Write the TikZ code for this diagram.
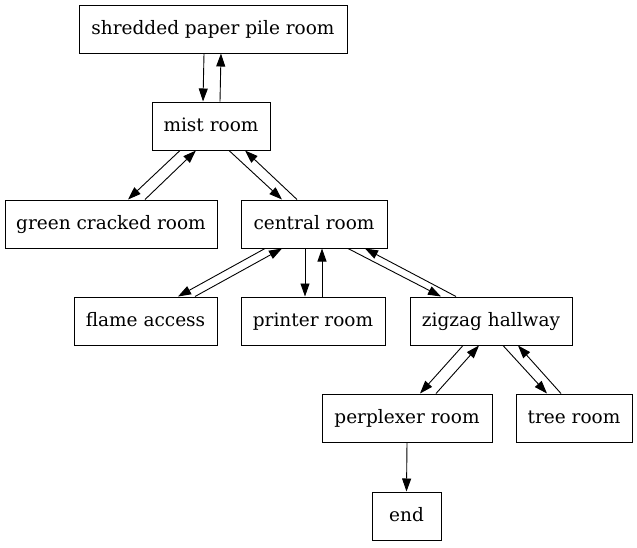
\documentclass[tikz,border=0pt]{standalone}
\usepackage{fontspec}
\setmainfont{DejaVu Serif}
\usetikzlibrary{arrows.meta}
\begin{document}
\begin{tikzpicture}[x=1pt,y=-1pt,
  room/.style={draw,line width=1pt,inner sep=0pt,minimum height=48pt,text height=13pt,text depth=3pt,font=\fontsize{18.5}{20}\selectfont},
  edge/.style={line width=0.9pt,-{Triangle[length=13pt,width=9pt]}}]
\useasboundingbox (0,0) rectangle (637,547);
\node[room,minimum width=268pt] (shred) at (213,29) {shredded paper pile room};
\node[room,minimum width=118pt] (mist) at (211,126) {mist room};
\node[room,minimum width=212pt] (green) at (111,224) {green cracked room};
\node[room,minimum width=146pt] (central) at (314,224) {central room};
\node[room,minimum width=143pt] (flame) at (145.5,321) {flame access};
\node[room,minimum width=144pt] (printer) at (313,321) {printer room};
\node[room,minimum width=162pt] (zigzag) at (491,321) {zigzag hallway};
\node[room,minimum width=170pt] (perp) at (407,418) {perplexer room};
\node[room,minimum width=116pt] (tree) at (574,418) {tree room};
\node[room,minimum width=69pt] (end) at (406.5,516) {end};
\draw[edge] ([xshift=-9pt]shred.south) -- ([xshift=-8pt]mist.north);
\draw[edge] ([xshift=9pt]mist.north) -- ([xshift=8pt]shred.south);
\draw[edge] ([xshift=-31pt]mist.south) -- ([xshift=17pt]green.north);
\draw[edge] ([xshift=34pt]green.north) -- ([xshift=-15pt]mist.south);
\draw[edge] ([xshift=18pt]mist.south) -- ([xshift=-32pt]central.north);
\draw[edge] ([xshift=-17pt]central.north) -- ([xshift=34pt]mist.south);
\draw[edge] ([xshift=-49pt]central.south) -- ([xshift=32.5pt]flame.north);
\draw[edge] ([xshift=49.5pt]flame.north) -- ([xshift=-32pt]central.south);
\draw[edge] ([xshift=-9pt]central.south) -- ([xshift=-8pt]printer.north);
\draw[edge] ([xshift=9pt]printer.north) -- ([xshift=8pt]central.south);
\draw[edge] ([xshift=34pt]central.south) -- ([xshift=-50pt]zigzag.north);
\draw[edge] ([xshift=-35pt]zigzag.north) -- ([xshift=51pt]central.south);
\draw[edge] ([xshift=-28pt]zigzag.south) -- ([xshift=13pt]perp.north);
\draw[edge] ([xshift=29pt]perp.north) -- ([xshift=-12pt]zigzag.south);
\draw[edge] ([xshift=12pt]zigzag.south) -- ([xshift=-27pt]tree.north);
\draw[edge] ([xshift=-13pt]tree.north) -- ([xshift=27pt]zigzag.south);
\draw[edge] (perp.south) -- (end.north);
\end{tikzpicture}
\end{document}
